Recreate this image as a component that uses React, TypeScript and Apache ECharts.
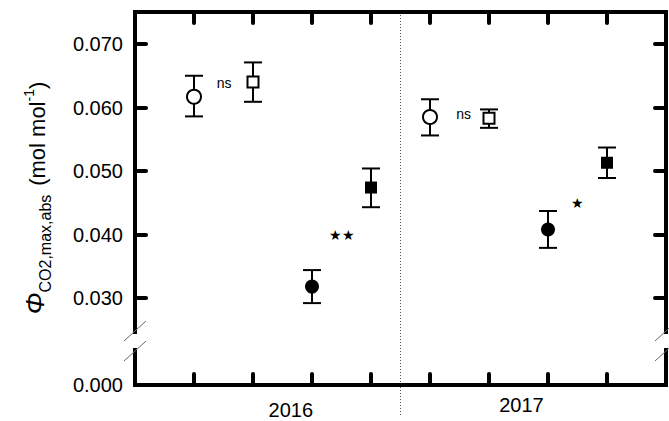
import React, { useEffect, useRef } from "react";
import * as echarts from "echarts";

// Positions on the x axis (1..8) and the two year groups
const yearLabels = ["2016", "2017"];
const yearLabelX = [2.64, 6.55];
const xTickValues = [1, 2, 3, 4, 5, 6, 7, 8];
const yTickValues = [0.03, 0.04, 0.05, 0.06, 0.07];
const yearDividerX = 4.5;

// Open circles
const openCircleX = [1, 5];
const openCircleMean = [0.0617, 0.0585];
const openCircleLo = [0.0586, 0.0556];
const openCircleHi = [0.065, 0.0613];

// Open squares
const openSquareX = [2, 6];
const openSquareMean = [0.064, 0.0583];
const openSquareLo = [0.0609, 0.0568];
const openSquareHi = [0.0671, 0.0597];

// Filled circles
const filledCircleX = [3, 7];
const filledCircleMean = [0.0318, 0.0408];
const filledCircleLo = [0.0292, 0.0379];
const filledCircleHi = [0.0344, 0.0437];

// Filled squares
const filledSquareX = [4, 8];
const filledSquareMean = [0.0474, 0.0513];
const filledSquareLo = [0.0443, 0.0489];
const filledSquareHi = [0.0504, 0.0537];

// Significance annotations
const annotText = ["ns", "★★", "ns", "★"];
const annotX = [1.51, 3.5, 5.57, 7.5];
const annotY = [0.0639, 0.04, 0.0589, 0.045];

const FONT = "Liberation Sans, Arial, sans-serif";

export default function App() {
  const ref = useRef<HTMLDivElement>(null);
  useEffect(() => {
    document.body.style.margin = "0";
    if (!ref.current) return;
    const chart = echarts.init(ref.current, null, { renderer: "svg" });

    const axisLine = { show: true, onZero: false, lineStyle: { color: "#000", width: 4, cap: "square" } };
    const tickStyle = { color: "#000", width: 4, cap: "round" };

    const mkErr = (xs: number[], lo: number[], hi: number[]) =>
      xs.map((x, i) => [x, lo[i], hi[i]]);
    const mkPts = (xs: number[], ys: number[]) => xs.map((x, i) => [x, ys[i]]);

    const errData = [
      ...mkErr(openCircleX, openCircleLo, openCircleHi),
      ...mkErr(openSquareX, openSquareLo, openSquareHi),
      ...mkErr(filledCircleX, filledCircleLo, filledCircleHi),
      ...mkErr(filledSquareX, filledSquareLo, filledSquareHi),
    ];

    const lineSt = { stroke: "#000", lineWidth: 2 };

    chart.setOption({
      animation: false,
      grid: [
        { left: 135, top: 12, width: 531, height: 320 },
        { left: 135, top: 350, width: 531, height: 35 },
      ],
      xAxis: [
        {
          gridIndex: 0, type: "value", min: 0, max: 9, position: "top",
          axisLine,
          axisTick: { show: true, inside: true, length: 11, lineStyle: tickStyle, customValues: xTickValues },
          axisLabel: { show: false }, splitLine: { show: false },
        },
        {
          gridIndex: 1, type: "value", min: 0, max: 9, position: "bottom",
          axisLine,
          axisTick: { show: true, inside: true, length: 11, lineStyle: tickStyle, customValues: xTickValues },
          axisLabel: { show: false }, splitLine: { show: false },
        },
      ],
      yAxis: [
        {
          gridIndex: 0, type: "value", min: 0.02465, max: 0.07504, position: "left",
          axisLine,
          axisTick: { show: true, inside: true, length: 11, lineStyle: tickStyle, customValues: yTickValues },
          axisLabel: {
            show: true, customValues: yTickValues, margin: 12, fontSize: 20, color: "#000", fontFamily: FONT,
            formatter: (v: number) => v.toFixed(3),
          },
          splitLine: { show: false },
        },
        {
          gridIndex: 0, type: "value", min: 0.02465, max: 0.07504, position: "right",
          axisLine,
          axisTick: { show: true, inside: true, length: 11, lineStyle: tickStyle, customValues: yTickValues },
          axisLabel: { show: false }, splitLine: { show: false },
        },
        {
          gridIndex: 1, type: "value", min: 0, max: 0.00551, position: "left",
          axisLine, axisTick: { show: false },
          axisLabel: {
            show: true, customValues: [0], margin: 12, fontSize: 20, color: "#000", fontFamily: FONT,
            formatter: (v: number) => v.toFixed(3),
          },
          splitLine: { show: false },
        },
        {
          gridIndex: 1, type: "value", min: 0, max: 0.00551, position: "right",
          axisLine, axisTick: { show: false }, axisLabel: { show: false }, splitLine: { show: false },
        },
      ],
      series: [
        {
          type: "custom", xAxisIndex: 0, yAxisIndex: 0, data: errData, encode: { x: 0, y: [1, 2] }, z: 1,
          renderItem: (_p: any, api: any) => {
            const x = api.value(0);
            const top = api.coord([x, api.value(2)]);
            const bot = api.coord([x, api.value(1)]);
            const w = 9;
            return {
              type: "group",
              children: [
                { type: "line", shape: { x1: top[0], y1: top[1], x2: bot[0], y2: bot[1] }, style: lineSt },
                { type: "line", shape: { x1: top[0] - w, y1: top[1], x2: top[0] + w, y2: top[1] }, style: lineSt },
                { type: "line", shape: { x1: bot[0] - w, y1: bot[1], x2: bot[0] + w, y2: bot[1] }, style: lineSt },
              ],
            };
          },
        },
        {
          type: "scatter", xAxisIndex: 0, yAxisIndex: 0, z: 3, symbol: "circle", symbolSize: 14,
          itemStyle: { color: "#fff", borderColor: "#000", borderWidth: 2, opacity: 1 },
          data: mkPts(openCircleX, openCircleMean),
        },
        {
          type: "scatter", xAxisIndex: 0, yAxisIndex: 0, z: 3, symbol: "rect", symbolSize: 11,
          itemStyle: { color: "#fff", borderColor: "#000", borderWidth: 2, opacity: 1 },
          data: mkPts(openSquareX, openSquareMean),
        },
        {
          type: "scatter", xAxisIndex: 0, yAxisIndex: 0, z: 3, symbol: "circle", symbolSize: 14,
          itemStyle: { color: "#000", opacity: 1 },
          data: mkPts(filledCircleX, filledCircleMean),
        },
        {
          type: "scatter", xAxisIndex: 0, yAxisIndex: 0, z: 3, symbol: "rect", symbolSize: 12,
          itemStyle: { color: "#000", opacity: 1 },
          data: mkPts(filledSquareX, filledSquareMean),
        },
        {
          type: "scatter", xAxisIndex: 0, yAxisIndex: 0, z: 4, symbolSize: 0,
          itemStyle: { opacity: 1 },
          data: annotX.map((x, i) => ({ value: [x, annotY[i]], name: annotText[i] })),
          label: {
            show: true, position: "inside", color: "#000", opacity: 1,
            formatter: (p: any) => p.name,
            fontFamily: FONT, fontSize: 14,
          },
        },
      ],
    });

    const px = (x: number, y: number) => chart.convertToPixel({ gridIndex: 0 }, [x, y]) as number[];
    const divX = px(yearDividerX, 0.05)[0];
    const gTop = 12, gBot1 = 332, gTop2 = 350;
    const leftX = px(0, 0.05)[0];
    const rightX = px(9, 0.05)[0];
    const slash = (cx: number, cy: number) => ({
      type: "line",
      shape: { x1: cx - 11, y1: cy + 10, x2: cx + 11, y2: cy - 10 },
      style: { stroke: "#666", lineWidth: 1 },
      z: 10,
    });

    chart.setOption({
      graphic: [
        {
          type: "line",
          shape: { x1: divX, y1: gTop, x2: divX, y2: 416 },
          style: { stroke: "#555", lineWidth: 1, lineDash: [1, 2] },
        },
        slash(leftX, gBot1 - 1),
        slash(leftX, gTop2 + 1),
        slash(rightX, gBot1 - 1),
        slash(rightX, gTop2 + 1),
        ...yearLabels.map((t, i) => ({
          type: "text",
          x: px(yearLabelX[i], 0.05)[0],
          y: i === 0 ? 410 : 405,
          style: { text: t, fontSize: 20, fontFamily: FONT, fill: "#000", align: "center", verticalAlign: "middle" },
        })),
        {
          type: "text",
          x: 35,
          y: 198,
          rotation: Math.PI / 2,
          style: {
            text: "{phi|Φ}{sub|CO2,max,abs}  {main|(mol mol}{sup|-1}{main|)}",
            align: "center",
            verticalAlign: "middle",
            fill: "#000",
            fontSize: 16,
            rich: {
              phi: { fontSize: 26, fontStyle: "italic", fontFamily: FONT, fill: "#000", verticalAlign: "bottom" },
              sub: { fontSize: 16, fontFamily: FONT, fill: "#000", verticalAlign: "bottom", padding: [0, 0, -5, 0] },
              main: { fontSize: 22, fontFamily: FONT, fill: "#000", verticalAlign: "bottom" },
              sup: { fontSize: 14, fontFamily: FONT, fill: "#000", verticalAlign: "top" },
            },
          },
        },
      ],
    });

    return () => chart.dispose();
  }, []);
  return <div ref={ref} style={{ width: 669, height: 421 }} />;
}
